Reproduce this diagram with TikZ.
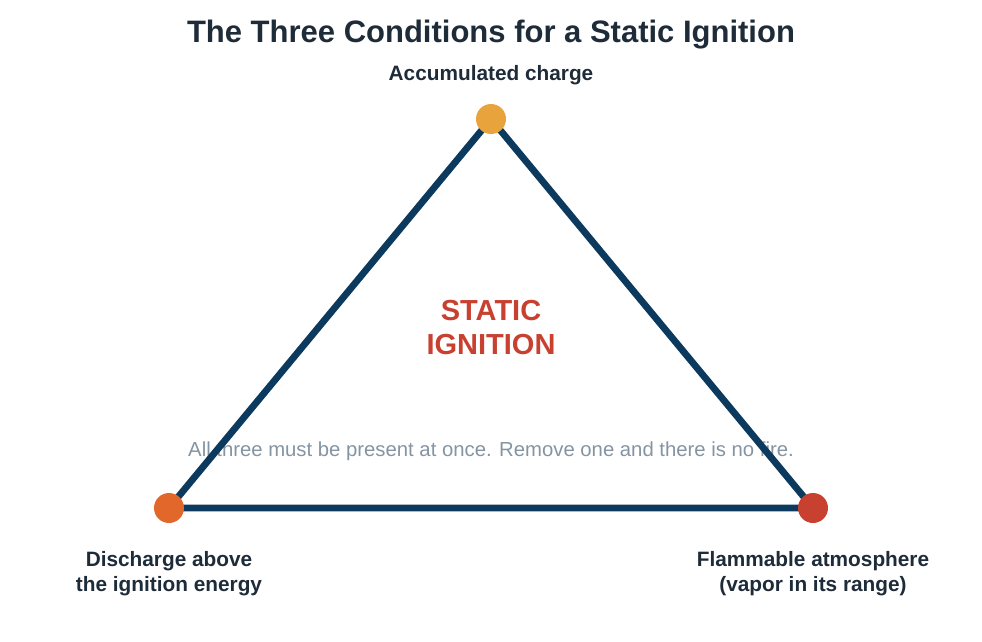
\documentclass[tikz,border=0pt]{standalone}
\usepackage{fontspec}
\setmainfont{Liberation Sans}
\definecolor{navy}{HTML}{0B3A5E}
\definecolor{ink}{HTML}{1E2B38}
\definecolor{amber}{HTML}{E8A33C}
\definecolor{tangerine}{HTML}{E2672B}
\definecolor{brick}{HTML}{C84130}
\definecolor{slate}{HTML}{8494A3}
\tikzset{
  corner/.style={circle,inner sep=0pt,minimum size=30pt},
  caption/.style={text=ink,font=\fontsize{20.8}{25}\selectfont\bfseries,align=center}
}
\begin{document}
\begin{tikzpicture}[x=1pt,y=-1pt]
    \useasboundingbox (0,0) rectangle (982,642);

    \node[text=ink,font=\fontsize{31}{36}\selectfont\bfseries] (title) at (491,35) {The Three Conditions for a Static Ignition};

    \node[text=slate,font=\fontsize{20.3}{24}\selectfont] (note) at (491,451) {All three must be present at once. Remove one and there is no fire.};
    \node[text=brick,font=\fontsize{29}{34}\selectfont\bfseries,align=center] (core) at (491,328) {STATIC\\IGNITION};

    \coordinate (charge) at (491,119);
    \coordinate (spark)  at (169,508);
    \coordinate (vapor)  at (813,508);

    \draw[navy,line width=6.8pt,line join=round] (charge) -- (spark) -- (vapor) -- cycle;

    \node[corner,fill=amber]     (chargeDot) at (charge) {};
    \node[corner,fill=tangerine] (sparkDot)  at (spark)  {};
    \node[corner,fill=brick]     (vaporDot)  at (vapor)  {};

    \node[caption] (chargeText) at (491,75)    {Accumulated charge};
    \node[caption] (sparkText)  at (169,573.5) {Discharge above\\the ignition energy};
    \node[caption] (vaporText)  at (813,573.5) {Flammable atmosphere\\(vapor in its range)};
  \end{tikzpicture}
\end{document}
